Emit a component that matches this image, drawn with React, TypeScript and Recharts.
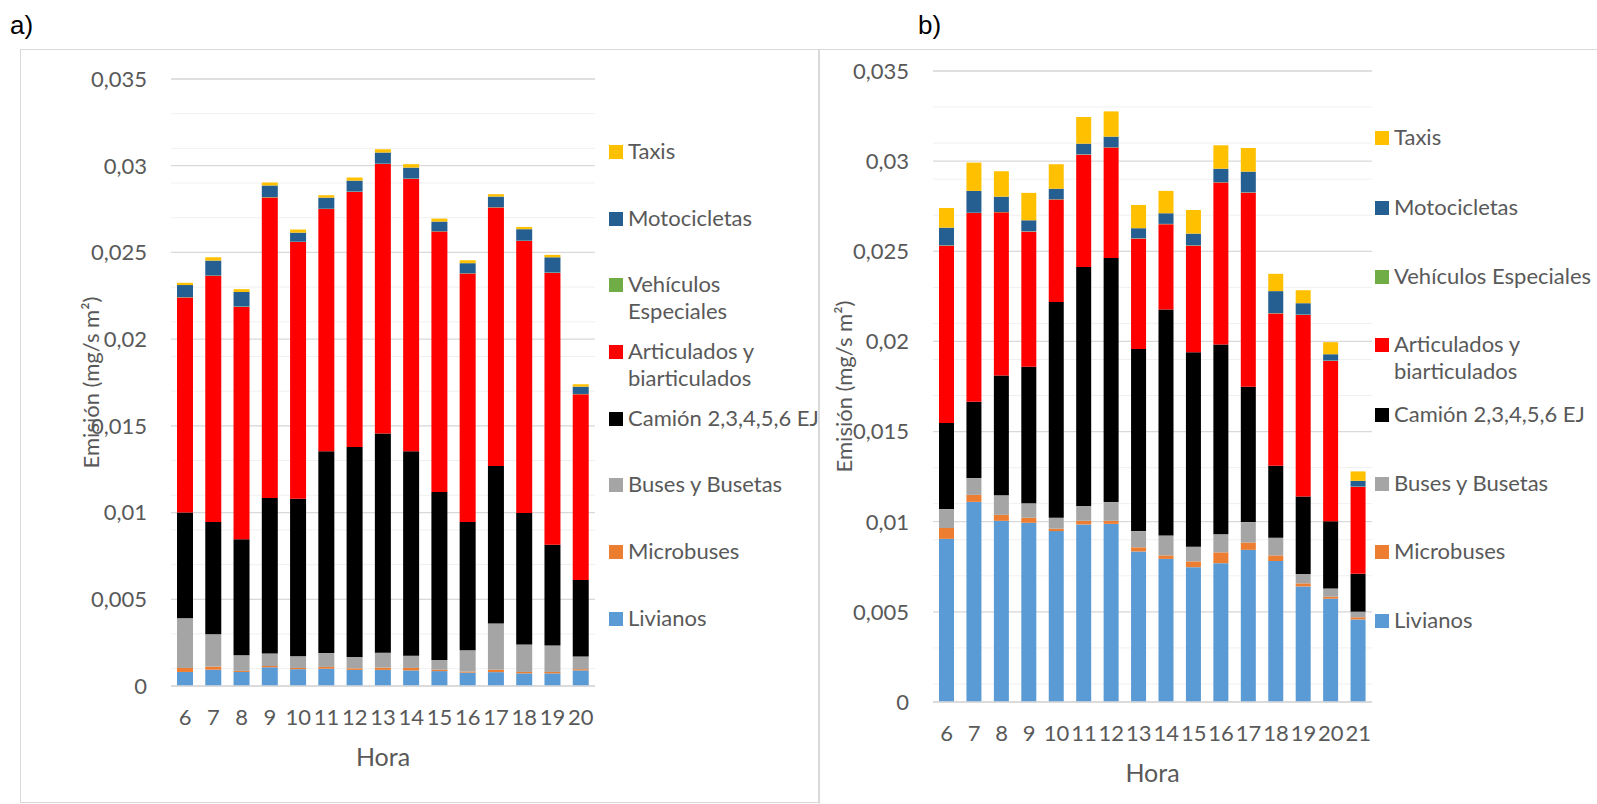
import React from "react";
import { BarChart, Bar, XAxis, YAxis, CartesianGrid } from "recharts";

// Hours
const horasA = ["6", "7", "8", "9", "10", "11", "12", "13", "14", "15", "16", "17", "18", "19", "20"];
const horasB = ["6", "7", "8", "9", "10", "11", "12", "13", "14", "15", "16", "17", "18", "19", "20", "21"];

// Panel a) series (mg/s m2)
const livianosA = [0.00081, 0.00094, 0.00081, 0.00108, 0.00097, 0.001, 0.00093, 0.00093, 0.0009, 0.00086, 0.00077, 0.0008, 0.00073, 0.00073, 0.0009];
const microbusesA = [0.00023, 0.00018, 0.00006, 0.00008, 0.00007, 0.0001, 0.00009, 0.00013, 0.00014, 0.00008, 0.00006, 0.00014, 0.00008, 0.00008, 0.00007];
const busesA = [0.00286, 0.00186, 0.0009, 0.00071, 0.00067, 0.0008, 0.00065, 0.00086, 0.00071, 0.00056, 0.00123, 0.00266, 0.00159, 0.00152, 0.00073];
const camionA = [0.0061, 0.00648, 0.00669, 0.00897, 0.00908, 0.01164, 0.01211, 0.01264, 0.01179, 0.00969, 0.0074, 0.00909, 0.00758, 0.00582, 0.00441];
const articuladosA = [0.0124, 0.01419, 0.0134, 0.01733, 0.01481, 0.01396, 0.01471, 0.01554, 0.0157, 0.01501, 0.01432, 0.0149, 0.01568, 0.01567, 0.01071];
const especialesA = [0.00002, 0.00002, 0.00002, 0.00002, 0.00002, 0.00002, 0.00002, 0.00002, 0.00002, 0.00002, 0.00002, 0.00002, 0.00002, 0.00002, 0.00002];
const motosA = [0.0007, 0.00086, 0.00084, 0.00067, 0.00052, 0.00064, 0.00063, 0.00064, 0.00063, 0.00056, 0.00058, 0.00061, 0.00066, 0.00088, 0.00042];
const taxisA = [0.00013, 0.00019, 0.00016, 0.00017, 0.00018, 0.00014, 0.00018, 0.00019, 0.0002, 0.00017, 0.00017, 0.00014, 0.00013, 0.00014, 0.00014];

// Panel b) series (mg/s m2)
const livianosB = [0.00905, 0.0111, 0.01005, 0.00994, 0.00948, 0.00985, 0.00988, 0.00835, 0.00794, 0.00748, 0.0077, 0.00844, 0.00782, 0.00641, 0.00573, 0.00458];
const microbusesB = [0.0006, 0.00039, 0.00033, 0.00028, 0.00013, 0.0002, 0.00017, 0.00023, 0.00019, 0.00032, 0.0006, 0.00041, 0.00031, 0.00017, 0.00011, 0.00012];
const busesB = [0.00105, 0.00093, 0.00109, 0.00081, 0.00061, 0.00082, 0.00104, 0.0009, 0.00111, 0.00081, 0.001, 0.00113, 0.00098, 0.00052, 0.00046, 0.00031];
const camionB = [0.00478, 0.00423, 0.00664, 0.00756, 0.01197, 0.01326, 0.01354, 0.0101, 0.01253, 0.01079, 0.01053, 0.0075, 0.00399, 0.0043, 0.00372, 0.0021];
const articuladosB = [0.00983, 0.01047, 0.00905, 0.0075, 0.00568, 0.00623, 0.00612, 0.00612, 0.00473, 0.00591, 0.00898, 0.01077, 0.00845, 0.01007, 0.0089, 0.00482];
const especialesB = [0.00002, 0.00002, 0.00002, 0.00002, 0.00002, 0.00002, 0.00002, 0.00002, 0.00002, 0.00002, 0.00002, 0.00002, 0.00002, 0.00002, 0.00002, 0.00002];
const motosB = [0.00098, 0.00121, 0.00085, 0.00061, 0.00058, 0.00059, 0.00059, 0.00056, 0.00059, 0.00065, 0.00075, 0.00115, 0.00122, 0.00063, 0.00035, 0.00032];
const taxisB = [0.00109, 0.00157, 0.00141, 0.00152, 0.00136, 0.00148, 0.0014, 0.00129, 0.00124, 0.00131, 0.0013, 0.00131, 0.00096, 0.00072, 0.00067, 0.00052];

const yTicks = [0, 0.005, 0.01, 0.015, 0.02, 0.025, 0.03, 0.035];
const minorTicks = Array.from({ length: 36 }, (_, i) => i / 1000);

// bottom to top
const series = [
  { key: "livianos", name: "Livianos", color: "#5B9BD5" },
  { key: "microbuses", name: "Microbuses", color: "#ED7D31" },
  { key: "buses", name: "Buses y Busetas", color: "#A5A5A5" },
  { key: "camion", name: "Camión 2,3,4,5,6 EJ", color: "#000000" },
  { key: "articulados", name: "Articulados y biarticulados", color: "#FF0000" },
  { key: "especiales", name: "Vehículos Especiales", color: "#70AD47" },
  { key: "motos", name: "Motocicletas", color: "#255E91" },
  { key: "taxis", name: "Taxis", color: "#FFC000" },
];

function buildData(horas: string[], cols: number[][]) {
  return horas.map((h, i) => {
    const row: any = { hora: h };
    series.forEach((s, j) => (row[s.key] = cols[j][i]));
    return row;
  });
}

const dataA = buildData(horasA, [livianosA, microbusesA, busesA, camionA, articuladosA, especialesA, motosA, taxisA]);
const dataB = buildData(horasB, [livianosB, microbusesB, busesB, camionB, articuladosB, especialesB, motosB, taxisB]);

const FONT = "Lato, 'Open Sans', sans-serif";
const TXT = "#595959";

const fmt = (v: number) => String(v).replace(".", ",");

function Panel({ data, width, height, margin, barSize, yLabelX }: any) {
  const plotBottom = height - margin.bottom - 40;
  const plotCenter = margin.top + (plotBottom - margin.top) / 2;
  const plotCenterX = margin.left + 70 + (width - margin.right - margin.left - 70) / 2;
  return (
    <BarChart width={width} height={height} data={data} margin={margin} barCategoryGap={0}>
      <CartesianGrid horizontalValues={minorTicks} vertical={false} stroke="#F0F0F0" strokeWidth={1} />
      <CartesianGrid horizontalValues={yTicks} vertical={false} stroke="#D9D9D9" strokeWidth={1.3} />
      <XAxis
        dataKey="hora"
        height={40}
        tick={{ fill: TXT, fontSize: 22, fontFamily: FONT }}
        tickLine={false}
        tickSize={0}
        tickMargin={23}
        axisLine={{ stroke: "#D9D9D9", strokeWidth: 1.3 }}
        label={{
          content: () => (
            <text x={plotCenterX} y={plotBottom + 80} textAnchor="middle" fill={TXT} fontSize={25} fontFamily={FONT}>
              Hora
            </text>
          ),
        }}
      />
      <YAxis
        width={70}
        domain={[0, 0.035]}
        ticks={yTicks}
        tickFormatter={fmt}
        tick={{ fill: TXT, fontSize: 22, fontFamily: FONT }}
        tickLine={false}
        tickSize={0}
        tickMargin={24}
        axisLine={false}
        label={{
          content: () => (
            <text
              x={yLabelX}
              y={plotCenter}
              transform={`rotate(-90 ${yLabelX} ${plotCenter})`}
              textAnchor="middle"
              dominantBaseline="central"
              fill={TXT}
              fontSize={22}
              fontFamily={FONT}
            >
              Emisión (mg/s m²)
            </text>
          ),
        }}
      />
      {series.map((s) => (
        <Bar key={s.key} dataKey={s.key} name={s.name} stackId="a" fill={s.color} barSize={barSize} isAnimationActive={false} />
      ))}
    </BarChart>
  );
}

function LegendBox({ left, tops, labels }: { left: number; tops: number[]; labels: string[][] }) {
  const items = [...series].reverse();
  return (
    <>
      {items.map((s, i) => (
        <div
          key={s.key}
          style={{ position: "absolute", left, top: tops[i] - 13, fontFamily: FONT, fontSize: 22, color: TXT, lineHeight: "26.7px" }}
        >
          <span
            style={{ position: "absolute", left: 0, top: 7, width: 14, height: 14, background: s.color }}
          />
          <div style={{ marginLeft: 19, whiteSpace: "nowrap" }}>
            {labels[i].map((l, k) => (
              <div key={k}>{l}</div>
            ))}
          </div>
        </div>
      ))}
    </>
  );
}

const legendLabelsA = [["Taxis"], ["Motocicletas"], ["Vehículos", "Especiales"], ["Articulados y", "biarticulados"], ["Camión 2,3,4,5,6 EJ"], ["Buses y Busetas"], ["Microbuses"], ["Livianos"]];
const legendLabelsB = [["Taxis"], ["Motocicletas"], ["Vehículos Especiales"], ["Articulados y", "biarticulados"], ["Camión 2,3,4,5,6 EJ"], ["Buses y Busetas"], ["Microbuses"], ["Livianos"]];

export default function App() {
  return (
    <div style={{ position: "absolute", left: 0, top: 0, width: 1597, height: 804, background: "#fff", overflow: "hidden" }}>
      <div style={{ position: "absolute", left: 10, top: 10, fontFamily: "'Liberation Sans', Arial, sans-serif", fontSize: 26 }}>a)</div>
      <div style={{ position: "absolute", left: 918, top: 10, fontFamily: "'Liberation Sans', Arial, sans-serif", fontSize: 26 }}>b)</div>

      {/* frames */}
      <div style={{ position: "absolute", left: 20, top: 49, width: 799, height: 754, border: "1.5px solid #D9D9D9", boxSizing: "border-box" }} />
      <div style={{ position: "absolute", left: 819, top: 49, width: 800, height: 800, border: "1.5px solid #D9D9D9", boxSizing: "border-box" }} />

      <div style={{ position: "absolute", left: 20, top: 49 }}>
        <Panel data={dataA} width={800} height={754} margin={{ top: 30, right: 225, bottom: 77, left: 81 }} barSize={16} yLabelX={70} />
      </div>
      <div style={{ position: "absolute", left: 819, top: 50 }}>
        <Panel data={dataB} width={778} height={754} margin={{ top: 21, right: 225, bottom: 62, left: 44 }} barSize={15} yLabelX={24} />
      </div>

      <LegendBox left={609} tops={[151, 217.7, 284.3, 351, 417.7, 484.3, 551, 617.7]} labels={legendLabelsA} />
      <LegendBox left={1375} tops={[137, 207, 276, 344.3, 413.7, 482.7, 551, 620.3]} labels={legendLabelsB} />
    </div>
  );
}
